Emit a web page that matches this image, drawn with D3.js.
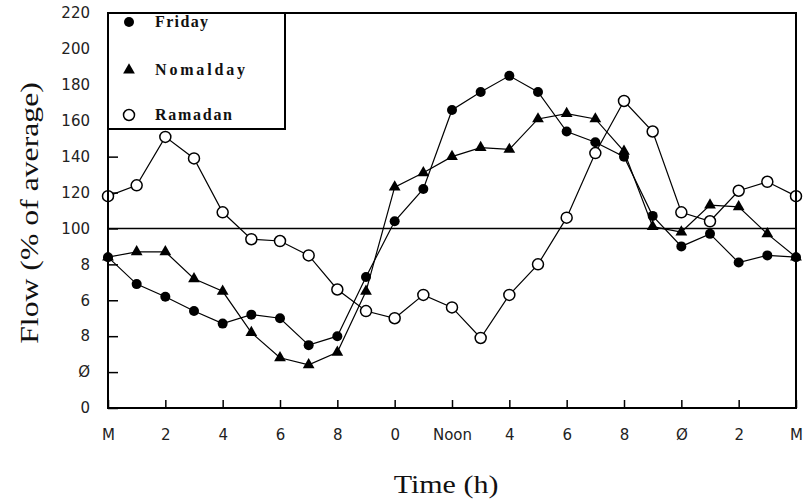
<!DOCTYPE html>
<html><head><meta charset="utf-8">
<script src="https://cdn.jsdelivr.net/npm/d3@7"></script>
<style>body{margin:0;background:#fff}svg{display:block}</style>
</head><body>
<svg id="c" width="804" height="501"></svg>
<script>
const hours = [0,1,2,3,4,5,6,7,8,9,10,11,12,13,14,15,16,17,18,19,20,21,22,23,24];
const friday = [84,69,62,54,47,52,50,35,40,73,104,122,166,176,185,176,154,148,140,107,90,97,81,85,84];
const normalday = [84,87,87,72,65,42,28,24,31,65,123,131,140,145,144,161,164,161,143,101,98,113,112,97,84];
const ramadan = [118,124,151,139,109,94,93,85,66,54,50,63,56,39,63,80,106,142,171,154,109,104,121,126,118];
const seriesNames = ["Friday","Nomalday","Ramadan"];
const xTickValues = [0,2,4,6,8,10,12,14,16,18,20,22,24];
const xTickLabels = ["M","2","4","6","8","0","Noon","4","6","8","Ø","2","M"];
const yTickValues = [0,20,40,60,80,100,120,140,160,180,200,220];
const yTickLabels = ["0","Ø","8","6","8","100","120","140","160","180","200","220"];
const refValue = 100;

const svg = d3.select("#c");
const L=108,R=796,T=13,B=408;
const x = d3.scaleLinear().domain([0,24]).range([L,R]);
const y = d3.scaleLinear().domain([0,220]).range([B,T]);

svg.append("rect").attr("width",804).attr("height",501).attr("fill","#fff");

const yAxis = d3.axisLeft(y).tickValues(yTickValues).tickSize(-10).tickPadding(18)
  .tickFormat((d,i)=>yTickLabels[i]);
const gy = svg.append("g").attr("transform",`translate(${L},0)`).call(yAxis);
gy.select(".domain").remove();
gy.selectAll("line").attr("stroke","#000").attr("stroke-width",1.5);
gy.selectAll("text").attr("font-family","DejaVu Sans").attr("font-size",15).attr("fill","#222");

const xAxis = d3.axisBottom(x).tickValues(xTickValues).tickSize(-8).tickPadding(21)
  .tickFormat((d,i)=>xTickLabels[i]);
const gx = svg.append("g").attr("transform",`translate(0,${B})`).call(xAxis);
gx.select(".domain").remove();
gx.selectAll("line").attr("stroke","#000").attr("stroke-width",1.5);
gx.selectAll("text").attr("font-family","DejaVu Sans").attr("font-size",15).attr("fill","#222");

svg.append("line").attr("x1",L).attr("x2",R).attr("y1",y(refValue)).attr("y2",y(refValue))
  .attr("stroke","#000").attr("stroke-width",1.5);

const data = [friday, normalday, ramadan];
const line = d3.line().x((d,i)=>x(hours[i])).y(d=>y(d));
data.forEach(s=>{
  svg.append("path").attr("d",line(s)).attr("fill","none").attr("stroke","#000").attr("stroke-width",1.2);
});

const tri = d3.symbol().type(d3.symbolTriangle).size(60);
function marker(g, k, cx, cy){
  if(k===0){
    g.append("circle").attr("cx",cx).attr("cy",cy).attr("r",5).attr("fill","#000");
  } else if(k===1){
    g.append("path").attr("d",tri()).attr("transform",`translate(${cx},${cy})`).attr("fill","#000");
  } else {
    g.append("circle").attr("cx",cx).attr("cy",cy).attr("r",5.5).attr("fill","#fff").attr("stroke","#000").attr("stroke-width",1.5);
  }
}
const gm = svg.append("g");
data.forEach((s,k)=>{
  s.forEach((v,i)=>marker(gm,k,x(hours[i]),y(v)));
});

svg.append("rect").attr("x",L).attr("y",T).attr("width",R-L).attr("height",B-T)
  .attr("fill","none").attr("stroke","#000").attr("stroke-width",2);

const lg = svg.append("g");
lg.append("rect").attr("x",L).attr("y",T).attr("width",285-L).attr("height",129-T)
  .attr("fill","#fff").attr("stroke","#000").attr("stroke-width",2);
const ly = [22,70,115];
const lw = [53,90,77];
seriesNames.forEach((n,k)=>{
  marker(lg,k,129,ly[k]);
  lg.append("text").attr("x",155).attr("y",ly[k]+5).text(n)
    .attr("font-family","Liberation Serif").attr("font-weight","bold").attr("font-size",16)
    .attr("textLength",lw[k]).attr("lengthAdjust","spacing").attr("fill","#111");
});

svg.append("text").attr("transform","translate(446,493) scale(1.2,1)").attr("text-anchor","middle")
  .attr("font-family","Liberation Serif").attr("font-size",25).attr("fill","#111").text("Time (h)");
svg.append("text").attr("transform","translate(38,213) rotate(-90) scale(1.22,1)").attr("text-anchor","middle")
  .attr("font-family","Liberation Serif").attr("font-size",26).attr("fill","#111").text("Flow (% of average)");
</script>
</body></html>
